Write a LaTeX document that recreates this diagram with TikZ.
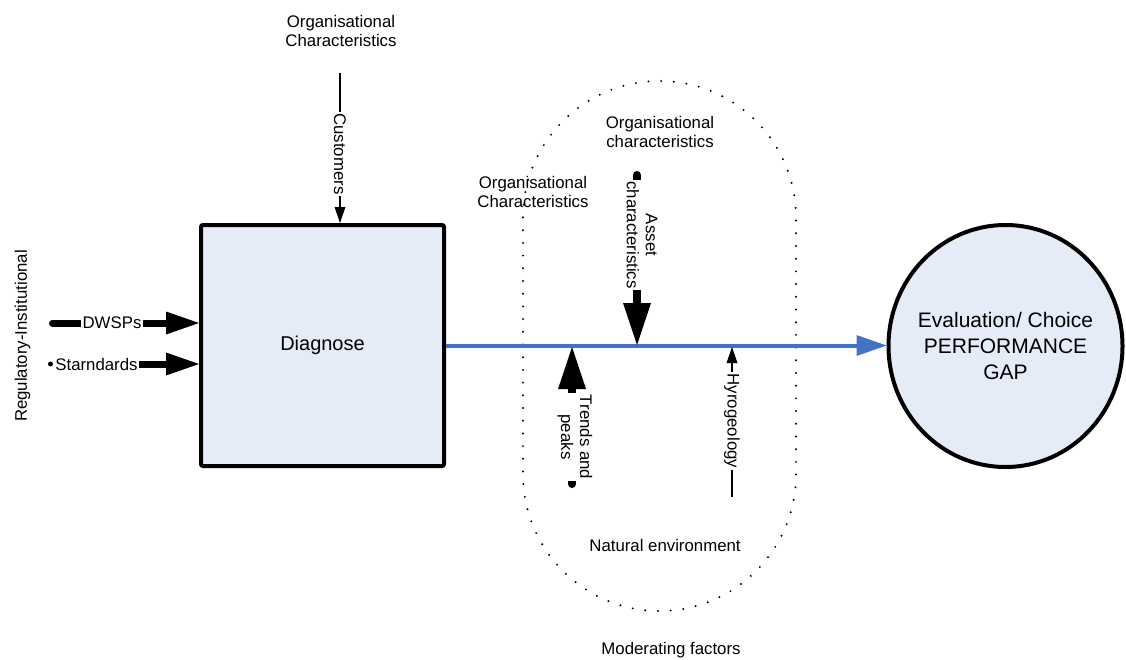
\documentclass[tikz,border=0pt]{standalone}
\usepackage{fontspec}
\setmainfont{Liberation Sans}
\usetikzlibrary{arrows.meta,shapes.geometric}
\definecolor{boxfill}{RGB}{230,236,247}
\definecolor{flowblue}{RGB}{68,114,196}
\begin{document}
\begin{tikzpicture}[x=1pt,y=-1pt,
  lbl/.style={font=\fontsize{16.8}{19}\selectfont, align=center, inner sep=0pt},
  onlbl/.style={lbl, fill=white, inner sep=1.5pt},
  thin link/.style={line width=1.3pt, -{Triangle[length=16pt,width=11pt,line width=0pt]}},
  heavy link/.style={line width=7pt, line cap=round, -{Triangle[length=33pt,width=23pt,line width=0pt]}},
  factor link/.style={line width=8pt, line cap=round, -{Triangle[length=42pt,width=28pt,line width=0pt]}},
  flow link/.style={line width=4pt, draw=flowblue, -{Triangle[length=30pt,width=21pt,line width=0pt,fill=flowblue]}},
  stage/.style={draw, line width=4pt, fill=boxfill},
  dots/.style={line width=2.2pt, line cap=round, dash pattern=on 0pt off 12.7pt}
]
\useasboundingbox (0,0) rectangle (1126,659);

% moderating factors boundary
\draw[dots, rounded corners=136.5pt] (523,81) rectangle (796,611);

% main stages
\node[stage, rounded corners=2pt, minimum width=243pt, minimum height=241pt, inner sep=0pt,
      font=\fontsize{20}{24}\selectfont] (dia) at (322.5,345.5) {Diagnose};
\node[stage, ellipse, minimum width=234pt, minimum height=242pt, inner sep=0pt] (gap) at (1005.5,346) {};
\node[font=\fontsize{21}{26}\selectfont, align=center, inner sep=0pt] (gaptext) at (gap.center)
  {Evaluation/ Choice\\PERFORMANCE\\GAP};

% flow from diagnosis to evaluation
\draw[flow link] (dia.east) -- (dia.east -| gap.west);

% free labels
\node[lbl] (orgTop) at (341,31) {Organisational\\Characteristics};
\node[lbl] (orgIn) at (660,132) {Organisational\\characteristics};
\node[lbl] (orgLeft) at (533,192) {Organisational\\Characteristics};
\node[lbl] (nat) at (665,545) {Natural environment};
\node[lbl] (mod) at (671,650) {Moderating factors};
\node[lbl, rotate=90] (reg) at (22.5,336) {Regulatory-Institutional};

% regulatory inputs
\coordinate (dwA) at (52.5,323);
\draw[heavy link] (dwA) -- (dwA -| dia.west);
\node[onlbl] (dwL) at (112,323) {DWSPs};

\coordinate (stDot) at (50.5,364);
\coordinate (stA) at (59,364);
\fill (stDot) circle[radius=2.5pt];
\draw[heavy link] (stA) -- (stA -| dia.west);
\node[onlbl] (stL) at (96.5,364) {Starndards};

% customers
\coordinate (cuA) at (340,73);
\draw[thin link] (cuA) -- (cuA |- dia.north);
\node[onlbl, rotate=-90] (cuL) at (340,154) {Customers};

% moderating factors acting on the flow
\coordinate (asA) at (637,175);
\coordinate (asB) at (637,345);
\draw[factor link] (asA) -- (asB);
\node[onlbl, rotate=-90] (asL) at (642,235) {Asset\\characteristics};

\coordinate (trA) at (572,484);
\coordinate (trB) at (572,347);
\draw[factor link] (trA) -- (trB);
\node[onlbl, rotate=-90] (trL) at (575,437) {Trends and\\peaks};

\coordinate (hyA) at (732,497);
\coordinate (hyB) at (732,347);
\draw[thin link] (hyA) -- (hyB);
\node[onlbl, rotate=-90] (hyL) at (732,421) {Hyrogeology};
\end{tikzpicture}
\end{document}
